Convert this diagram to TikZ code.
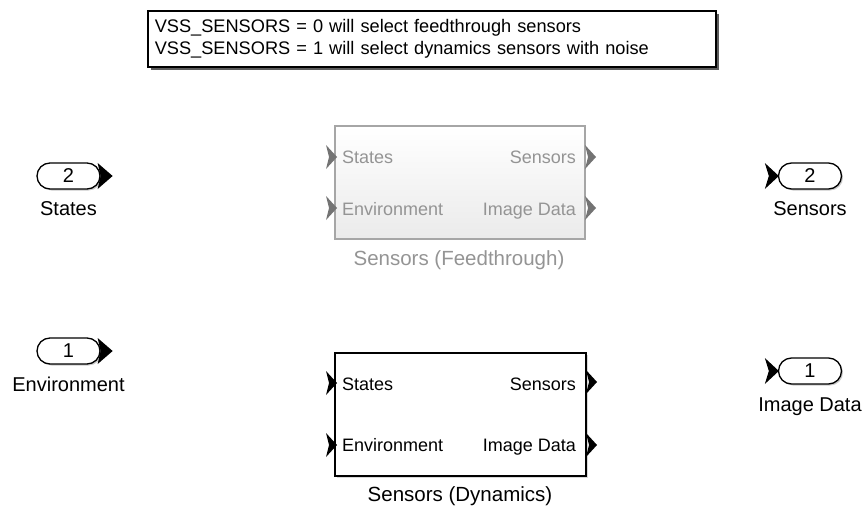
\documentclass[tikz,border=0pt]{standalone}
\usepackage{fontspec}
\setmainfont{Liberation Sans}
\usetikzlibrary{shadows}
\tikzset{
  pill/.style={draw=black, line width=1.3pt, rounded corners=13pt, minimum width=63pt,
    minimum height=26pt, fill=white, inner sep=0pt, font=\fontsize{20}{24}\selectfont,
    drop shadow={shadow xshift=1.5pt, shadow yshift=-1.5pt, fill=black!35, opacity=0.6}},
  extlabel/.style={anchor=base, inner sep=0pt, font=\fontsize{20}{24}\selectfont},
  portlabel/.style={inner sep=0pt, font=\fontsize{18}{22}\selectfont},
  blockname/.style={anchor=base, inner sep=0pt, font=\fontsize{20.5}{24}\selectfont},
  ftcol/.style={black!42},
  ftblock/.style={draw=black!35, line width=2pt, top color=white, bottom color=black!8,
    inner sep=0pt, anchor=north west},
  dynblock/.style={draw=black, line width=2pt, fill=white, inner sep=0pt, anchor=north west,
    drop shadow={shadow xshift=1.5pt, shadow yshift=-1.5pt, fill=black!30, opacity=0.5}},
  notebox/.style={draw=black, line width=1.5pt, fill=white, anchor=north west, align=left,
    inner xsep=7pt, inner ysep=0pt, font=\fontsize{18.2}{22.5}\selectfont,
    drop shadow={shadow xshift=3.5pt, shadow yshift=-3.5pt, fill=black!80, opacity=0.8}},
  portarrow/.pic={\path[pic actions] (-5,-12) -- (6,0) -- (-5,12) -- (-2,0) -- cycle;},
}
\begin{document}
\begin{tikzpicture}[x=1pt, y=-1pt]
\useasboundingbox (0,0) rectangle (865,506);

% note
\node (note) [notebox, minimum width=568pt, minimum height=56pt, text width=554pt] at (147,10)
  {VSS\_SENSORS = 0 will select feedthrough sensors\\VSS\_SENSORS = 1 will select dynamics sensors with noise};

% inports
\node (in2) [pill] at (68.5,176) {2};
\fill (in2.east) ++(-3,-13) -- ++(15,13) -- ++(-15,13) -- ++(3,-13) -- cycle;
\node (in2lab) [extlabel] at (68.5,215) {States};

\node (in1) [pill] at (68.5,351) {1};
\fill (in1.east) ++(-3,-13) -- ++(15,13) -- ++(-15,13) -- ++(3,-13) -- cycle;
\node (in1lab) [extlabel] at (68.5,391) {Environment};

% outports
\node (out2) [pill] at (810,176) {2};
\fill (out2.west) ++(-13,-13) -- ++(14,13) -- ++(-14,13) -- ++(4,-13) -- cycle;
\node (out2lab) [extlabel] at (810,215) {Sensors};

\node (out1) [pill] at (810,371) {1};
\fill (out1.west) ++(-13,-13) -- ++(14,13) -- ++(-14,13) -- ++(4,-13) -- cycle;
\node (out1lab) [extlabel] at (810,411) {Image Data};

% feedthrough block
\node (ft) [ftblock, minimum width=250pt, minimum height=113pt] at (334,125) {};
\node (ftin1) [portlabel, ftcol, anchor=base west] at (342,163) {States};
\node (ftin2) [portlabel, ftcol, anchor=base west] at (342,215) {Environment};
\node (ftout1) [portlabel, ftcol, anchor=base east] at (576,163) {Sensors};
\node (ftout2) [portlabel, ftcol, anchor=base east] at (576,215) {Image Data};
\node (ftname) [blockname, ftcol] at (459,265) {Sensors (Feedthrough)};
\pic [fill=black!55] at (331,157) {portarrow};
\pic [fill=black!55] at (331,208) {portarrow};
\pic [fill=black!55] at (590,157) {portarrow};
\pic [fill=black!55] at (590,208) {portarrow};

% dynamics block
\node (dyn) [dynblock, minimum width=251pt, minimum height=123pt] at (334,352) {};
\node (dynin1) [portlabel, anchor=base west] at (342,390) {States};
\node (dynin2) [portlabel, anchor=base west] at (342,451) {Environment};
\node (dynout1) [portlabel, anchor=base east] at (576,390) {Sensors};
\node (dynout2) [portlabel, anchor=base east] at (576,451) {Image Data};
\node (dynname) [blockname] at (460,501) {Sensors (Dynamics)};
\pic [fill=black] at (331,383) {portarrow};
\pic [fill=black] at (331,445) {portarrow};
\pic [fill=black] at (591,382) {portarrow};
\pic [fill=black] at (591,445) {portarrow};
\end{tikzpicture}
\end{document}
